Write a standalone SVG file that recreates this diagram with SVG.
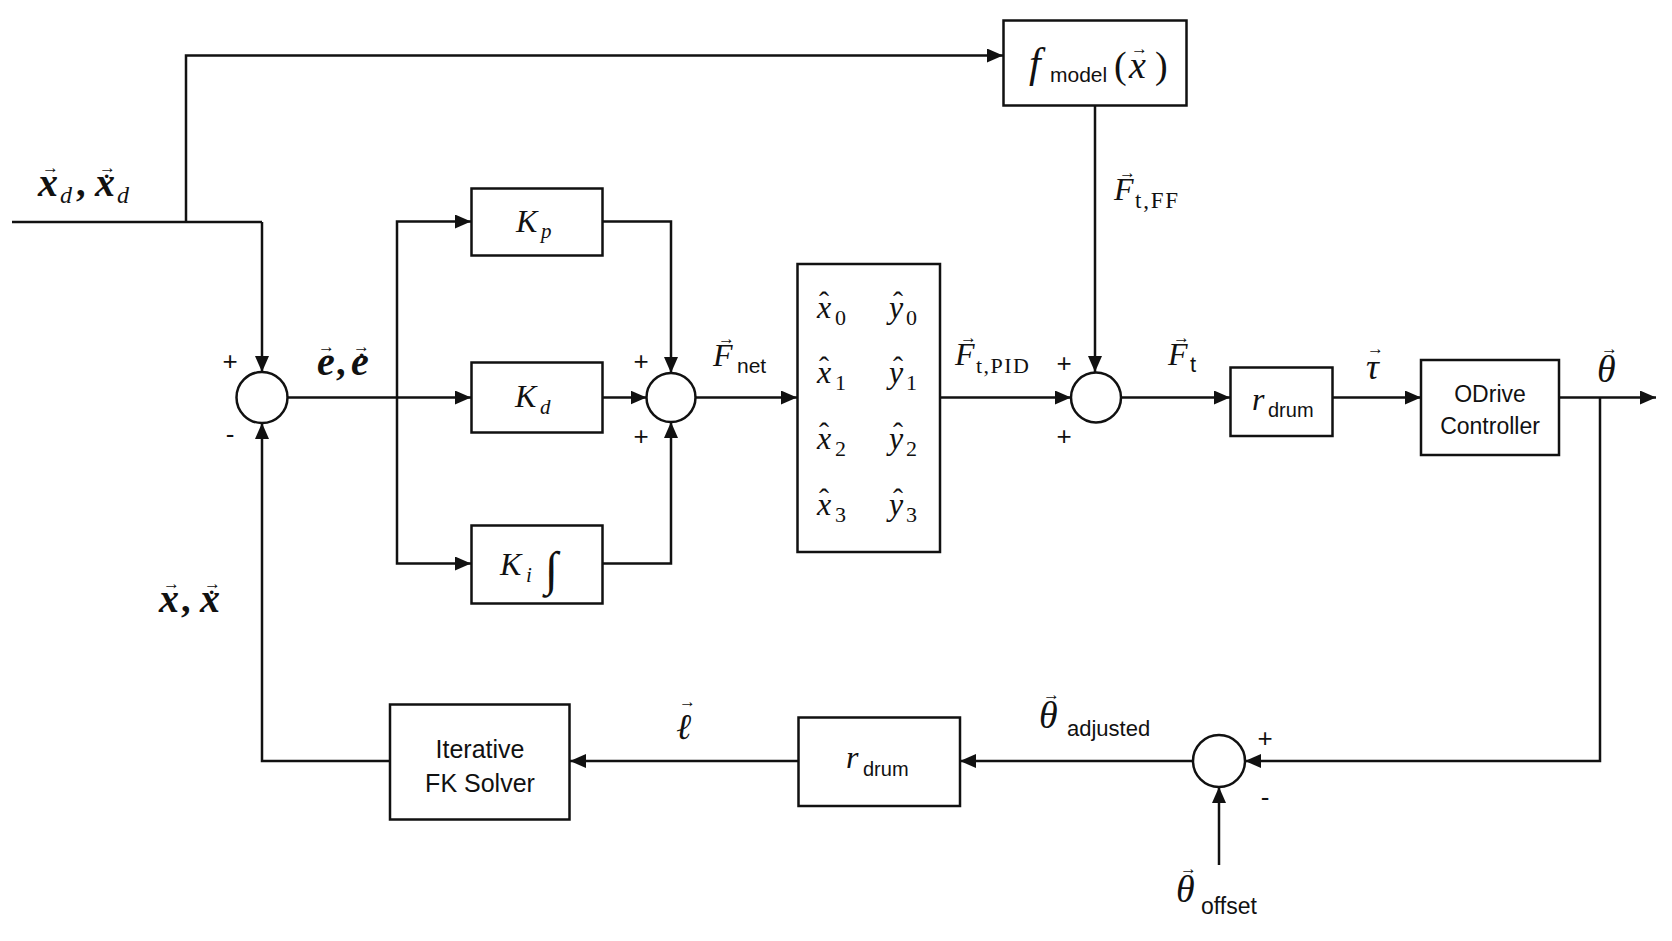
<svg xmlns="http://www.w3.org/2000/svg" width="1672" height="941" viewBox="0 0 1672 941">
<defs>
<marker id="ah" viewBox="0 0 16 14" refX="16" refY="7" markerWidth="16" markerHeight="14" markerUnits="userSpaceOnUse" orient="auto">
<path d="M0,0 L16,7 L0,14 z" fill="#111"/>
</marker>
<style>
.box{fill:#fff;stroke:#111;stroke-width:2.5}
.sum{fill:#fff;stroke:#111;stroke-width:2.5}
.ln{fill:none;stroke:#111;stroke-width:2.5}
.arr{fill:none;stroke:#111;stroke-width:2.5;marker-end:url(#ah)}
text{fill:#111}
.mi{font-family:"Liberation Serif",serif;font-style:italic}
.mr{font-family:"Liberation Serif",serif;font-style:normal;font-weight:normal}
.sf{font-family:"Liberation Sans",sans-serif;font-style:normal;font-weight:normal}
.v{font-family:"Liberation Serif",serif;font-style:normal;font-weight:normal;font-size:17px}
.b{font-weight:bold}
.pm{font-family:"Liberation Sans",sans-serif;font-size:26px}
</style>
</defs>
<rect width="1672" height="941" fill="#fff"/>

<g id="connectors">
<path class="ln" d="M12,222 H262"/>
<path class="arr" d="M262,222 V372"/>
<path class="arr" d="M186,222 V55.5 H1003"/>
<path class="arr" d="M1095,105 V372"/>
<path class="arr" d="M287.5,397.5 H471"/>
<path class="arr" d="M397,397.5 V221.5 H471"/>
<path class="arr" d="M397,397.5 V563.5 H471"/>
<path class="arr" d="M602,221.5 H671 V373"/>
<path class="arr" d="M602,397.5 H646.5"/>
<path class="arr" d="M602,563.5 H671 V422"/>
<path class="arr" d="M695.5,397.5 H797"/>
<path class="arr" d="M940,397.5 H1071"/>
<path class="arr" d="M1121,397.5 H1230"/>
<path class="arr" d="M1333,397.5 H1421"/>
<path class="arr" d="M1559,397.5 H1656"/>
<path class="arr" d="M1600,397.5 V761 H1245"/>
<path class="arr" d="M1193,761 H960"/>
<path class="arr" d="M798.5,761 H570"/>
<path class="arr" d="M390,761 H262 V423"/>
<path class="arr" d="M1219,865 V787"/>
</g>

<g id="sum1"><circle class="sum" cx="262" cy="397.5" r="25.5"/>
<text class="pm" x="230" y="370" text-anchor="middle">+</text>
<text class="pm" x="230" y="443" text-anchor="middle">-</text></g>
<g id="sum2"><circle class="sum" cx="671" cy="397.5" r="24.5"/>
<text class="pm" x="641" y="370" text-anchor="middle">+</text>
<text class="pm" x="641" y="445" text-anchor="middle">+</text></g>
<g id="sum3"><circle class="sum" cx="1096" cy="397.5" r="25"/>
<text class="pm" x="1064" y="372" text-anchor="middle">+</text>
<text class="pm" x="1064" y="445" text-anchor="middle">+</text></g>
<g id="sum4"><circle class="sum" cx="1219" cy="761" r="26"/>
<text class="pm" x="1265" y="747" text-anchor="middle">+</text>
<text class="pm" x="1265" y="806" text-anchor="middle">-</text></g>

<g id="fmodel"><rect class="box" x="1003.5" y="20.5" width="183" height="85"/>
<text class="mi"><tspan x="1029" y="77" font-size="42">f</tspan><tspan class="sf" x="1050" y="82" font-size="21">model</tspan><tspan class="mr" x="1114" y="78" font-size="38">(</tspan><tspan x="1129" y="78" font-size="38">x</tspan><tspan class="v" x="1131" y="54">→</tspan><tspan class="mr" x="1155" y="78" font-size="38">)</tspan></text></g>

<g id="kp"><rect class="box" x="471.5" y="188.5" width="131" height="67"/>
<text class="mi"><tspan x="516" y="232" font-size="32">K</tspan><tspan x="541" y="238" font-size="21">p</tspan></text></g>
<g id="kd"><rect class="box" x="471.5" y="362.5" width="131" height="70"/>
<text class="mi"><tspan x="515" y="407" font-size="32">K</tspan><tspan x="540" y="414" font-size="21">d</tspan></text></g>
<g id="ki"><rect class="box" x="471.5" y="525.5" width="131" height="78"/>
<text class="mi"><tspan x="500" y="575" font-size="32">K</tspan><tspan x="526" y="582" font-size="21">i</tspan><tspan x="545" y="585" font-size="48">∫</tspan></text></g>

<g id="matrix"><rect class="box" x="797.5" y="264" width="142.5" height="288"/>
<text class="mi"><tspan x="817" y="318" font-size="32">x</tspan><tspan class="mr" x="819" y="312" font-size="30">ˆ</tspan><tspan class="mr" x="835" y="325" font-size="22">0</tspan></text>
<text class="mi"><tspan x="889" y="318" font-size="32">y</tspan><tspan class="mr" x="893" y="312" font-size="30">ˆ</tspan><tspan class="mr" x="906" y="325" font-size="22">0</tspan></text>
<text class="mi"><tspan x="817" y="383" font-size="32">x</tspan><tspan class="mr" x="819" y="377" font-size="30">ˆ</tspan><tspan class="mr" x="835" y="390" font-size="22">1</tspan></text>
<text class="mi"><tspan x="889" y="383" font-size="32">y</tspan><tspan class="mr" x="893" y="377" font-size="30">ˆ</tspan><tspan class="mr" x="906" y="390" font-size="22">1</tspan></text>
<text class="mi"><tspan x="817" y="449" font-size="32">x</tspan><tspan class="mr" x="819" y="443" font-size="30">ˆ</tspan><tspan class="mr" x="835" y="456" font-size="22">2</tspan></text>
<text class="mi"><tspan x="889" y="449" font-size="32">y</tspan><tspan class="mr" x="893" y="443" font-size="30">ˆ</tspan><tspan class="mr" x="906" y="456" font-size="22">2</tspan></text>
<text class="mi"><tspan x="817" y="515" font-size="32">x</tspan><tspan class="mr" x="819" y="509" font-size="30">ˆ</tspan><tspan class="mr" x="835" y="522" font-size="22">3</tspan></text>
<text class="mi"><tspan x="889" y="515" font-size="32">y</tspan><tspan class="mr" x="893" y="509" font-size="30">ˆ</tspan><tspan class="mr" x="906" y="522" font-size="22">3</tspan></text></g>

<g id="rdrum1"><rect class="box" x="1230.5" y="367.5" width="102" height="68.5"/>
<text class="mi"><tspan x="1252" y="410" font-size="32">r</tspan><tspan class="sf" x="1268" y="417" font-size="20">drum</tspan></text></g>
<g id="odrive"><rect class="box" x="1421" y="360" width="138" height="95"/>
<text class="sf" x="1490" y="402" font-size="23" text-anchor="middle">ODrive</text>
<text class="sf" x="1490" y="434" font-size="23" text-anchor="middle">Controller</text></g>
<g id="rdrum2"><rect class="box" x="798.5" y="717.5" width="161.5" height="88.5"/>
<text class="mi"><tspan x="846" y="768" font-size="32">r</tspan><tspan class="sf" x="863" y="776" font-size="20">drum</tspan></text></g>
<g id="fk"><rect class="box" x="390" y="704.5" width="179.5" height="115"/>
<text class="sf" x="480" y="758" font-size="25" text-anchor="middle">Iterative</text>
<text class="sf" x="480" y="792" font-size="25" text-anchor="middle">FK Solver</text></g>

<g id="labels">
<text class="mi b"><tspan x="38" y="196" font-size="40">x</tspan><tspan class="v" x="42" y="173">→</tspan><tspan x="60" y="203" font-size="24" font-weight="normal">d</tspan><tspan class="mr b" x="76" y="196" font-size="38">,</tspan><tspan x="95" y="196" font-size="40">x</tspan><tspan class="v" x="99" y="173">→</tspan><tspan class="mr b" x="103" y="183" font-size="22">·</tspan><tspan x="117" y="203" font-size="24" font-weight="normal">d</tspan></text>

<text class="mi b"><tspan x="317" y="375" font-size="40">e</tspan><tspan class="v" x="318" y="352">→</tspan><tspan class="mr b" x="336" y="375" font-size="38">,</tspan><tspan x="351" y="375" font-size="40">e</tspan><tspan class="v" x="353" y="352">→</tspan><tspan class="mr b" x="358" y="362" font-size="22">·</tspan></text>

<text class="mi b"><tspan x="159" y="612" font-size="40">x</tspan><tspan class="v" x="163" y="589">→</tspan><tspan class="mr b" x="181" y="612" font-size="38">,</tspan><tspan x="200" y="612" font-size="40">x</tspan><tspan class="v" x="204" y="589">→</tspan><tspan class="mr b" x="208" y="599" font-size="22">·</tspan></text>

<text class="mi"><tspan x="713" y="366" font-size="32">F</tspan><tspan class="v" x="718" y="344">→</tspan><tspan class="sf" x="737" y="373" font-size="21">net</tspan></text>

<text class="mi"><tspan x="1114" y="200" font-size="32">F</tspan><tspan class="v" x="1119" y="178">→</tspan><tspan class="mr" x="1135" y="208" font-size="23" textLength="43" lengthAdjust="spacing">t,FF</tspan></text>

<text class="mi"><tspan x="955" y="365" font-size="32">F</tspan><tspan class="v" x="960" y="343">→</tspan><tspan class="mr" x="976" y="373" font-size="22" textLength="53" lengthAdjust="spacing">t,PID</tspan></text>

<text class="mi"><tspan x="1168" y="365" font-size="32">F</tspan><tspan class="v" x="1173" y="343">→</tspan><tspan class="sf" x="1190" y="372" font-size="22">t</tspan></text>

<text class="mi"><tspan x="1366" y="379" font-size="36">τ</tspan><tspan class="v" x="1367" y="354">→</tspan></text>

<text class="mi"><tspan x="1597" y="382" font-size="38">θ</tspan><tspan class="v" x="1601" y="354">→</tspan></text>

<text class="mi"><tspan x="676" y="739" font-size="36">ℓ</tspan><tspan class="v" x="679" y="707">→</tspan></text>

<text class="mi"><tspan x="1039" y="728" font-size="38">θ</tspan><tspan class="v" x="1043" y="700">→</tspan><tspan class="sf" x="1067" y="736" font-size="22">adjusted</tspan></text>

<text class="mi"><tspan x="1176" y="902" font-size="38">θ</tspan><tspan class="v" x="1180" y="874">→</tspan><tspan class="sf" x="1201" y="914" font-size="23">offset</tspan></text>
</g>
</svg>
